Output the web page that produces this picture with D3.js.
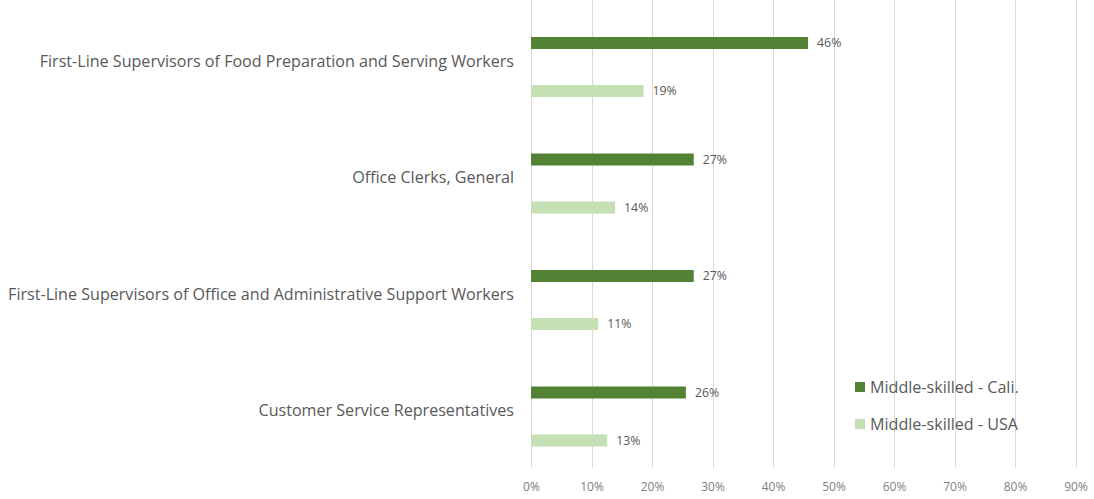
<!DOCTYPE html>
<html><head><meta charset="utf-8">
<script src="https://cdn.jsdelivr.net/npm/d3@7"></script>
<style>body{margin:0;background:#fff}svg{display:block}</style>
</head><body>
<svg id="c" width="1094" height="499"></svg>
<script>
const categories = ["First-Line Supervisors of Food Preparation and Serving Workers","Office Clerks, General","First-Line Supervisors of Office and Administrative Support Workers","Customer Service Representatives"];
const seriesNames = ["Middle-skilled - Cali.","Middle-skilled - USA"];
const caliValues = [0.458,0.269,0.269,0.256];
const usaValues = [0.186,0.139,0.111,0.126];
const tickValues = [0,0.1,0.2,0.3,0.4,0.5,0.6,0.7,0.8,0.9];
const colors = ["#548235","#c5e0b4"];

const svg = d3.select("#c");
const font = "'Open Sans', sans-serif";
const x = d3.scaleLinear().domain([0,0.9]).range([531,1075.5]);
const y0 = d3.scaleBand().domain(categories).range([0,466]);
const y1 = d3.scaleBand().domain(seriesNames).range([37,97]).paddingInner(0.75).paddingOuter(0);

// gridlines
svg.append("g").selectAll("line").data(tickValues).join("line")
  .attr("x1",d=>Math.round(x(d))+0.5).attr("x2",d=>Math.round(x(d))+0.5)
  .attr("y1",0).attr("y2",468).attr("stroke","#d9d9d9").attr("stroke-width",1);

// axis labels
const ax = svg.append("g").attr("transform","translate(0,468)")
  .call(d3.axisBottom(x).tickValues(tickValues).tickFormat(d3.format(".0%")).tickSize(0).tickPadding(14));
ax.select(".domain").remove();
ax.selectAll("text").attr("font-family",font).attr("font-size",12).attr("fill","#7f7f7f");

const data = [];
categories.forEach((c,i)=>{
  data.push({c,s:seriesNames[0],v:caliValues[i],col:colors[0]});
  data.push({c,s:seriesNames[1],v:usaValues[i],col:colors[1]});
});
svg.append("g").selectAll("rect").data(data).join("rect")
  .attr("x",x(0)).attr("y",d=>y0(d.c)+y1(d.s)).attr("width",d=>x(d.v)-x(0))
  .attr("height",y1.bandwidth()).attr("fill",d=>d.col);
svg.append("g").selectAll("text").data(data).join("text")
  .attr("x",d=>x(d.v)+9).attr("y",d=>y0(d.c)+y1(d.s)+y1.bandwidth()/2)
  .attr("dy","0.35em").attr("font-family",font).attr("font-size",12.3).attr("fill","#595959")
  .text(d=>d3.format(".0%")(d.v));

// category labels
svg.append("g").selectAll("text").data(categories).join("text")
  .attr("x",514).attr("y",d=>y0(d)+61).attr("dy","0.35em").attr("text-anchor","end")
  .attr("font-family",font).attr("font-size",16.1).attr("fill","#595959").text(d=>d);

// legend
const lg = svg.append("g").selectAll("g").data(seriesNames).join("g")
  .attr("transform",(d,i)=>`translate(855,${387+i*37})`);
lg.append("rect").attr("x",0).attr("y",-5).attr("width",10).attr("height",10).attr("fill",(d,i)=>colors[i]);
lg.append("text").attr("x",15).attr("dy","0.35em").attr("font-family",font).attr("font-size",16.1).attr("fill","#595959").text(d=>d);
</script>
</body></html>
